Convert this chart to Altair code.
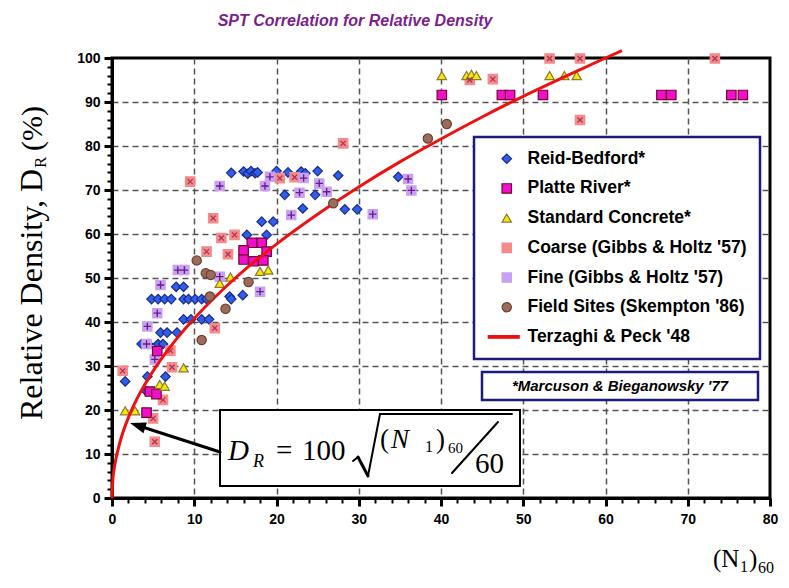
import altair as alt
import pandas as pd

series_names = ["Reid-Bedford*", "Platte River*", "Standard Concrete*",
                "Coarse (Gibbs & Holtz '57)", "Fine (Gibbs & Holtz '57)",
                "Field Sites (Skempton '86)", "Terzaghi & Peck '48"]

reid_n = [14.5, 16.0, 16.5, 16.9, 17.4, 17.7, 20.0, 21.4, 23.0, 23.5, 25.0, 27.5,
          21.0, 24.7, 23.2, 28.3, 29.8, 34.8,
          18.2, 19.6, 18.8, 16.4, 14.3, 15.9,
          4.8, 5.6, 6.4, 7.2, 8.7, 9.3, 10.1, 10.9, 11.5, 14.5,
          7.8, 8.7,
          8.7, 9.6, 10.9, 11.8,
          5.9, 6.7, 7.9,
          3.6, 4.4, 5.6, 6.2,
          4.3, 6.5, 1.6, 4.2]
reid_dr = [73.9, 74.2, 73.7, 74.3, 73.8, 74.0, 74.3, 74.0, 74.2, 73.8, 74.3, 73.3,
           68.9, 68.9, 65.8, 65.6, 65.6, 73.0,
           62.8, 62.8, 59.8, 59.8, 45.8, 46.1,
           45.2, 45.2, 45.2, 45.2, 45.2, 45.2, 45.2, 45.2, 45.2, 45.2,
           48.0, 48.0,
           40.6, 40.6, 40.6, 40.6,
           37.6, 37.6, 37.6,
           35.0, 35.0, 35.0, 35.0,
           27.6, 27.6, 26.5, 24.2]

platte_n = [17.0, 18.2, 16.0, 18.8, 16.0, 17.2, 18.4, 4.6, 5.4, 4.2, 5.5,
            40.1, 47.4, 48.4, 52.4, 66.8, 68.0, 75.3, 76.7]
platte_dr = [58.0, 58.0, 56.3, 56.0, 54.2, 53.8, 54.0, 24.2, 23.6, 19.4, 33.4,
             91.6, 91.6, 91.6, 91.6, 91.6, 91.6, 91.6, 91.6]

conc_n = [40.1, 43.1, 43.7, 44.3, 53.2, 55.0, 56.5, 1.6, 2.8, 5.8, 6.4, 8.7, 13.1, 14.4, 18.0, 19.0]
conc_dr = [96.0, 96.0, 96.3, 96.0, 96.0, 96.0, 96.0, 19.8, 19.8, 25.8, 25.4, 29.6, 48.8, 50.2, 51.5, 51.8]

coarse_n = [9.5, 12.3, 28.1, 20.4, 22.2, 13.3, 14.9, 11.5, 14.1, 12.5, 7.1, 1.3, 7.3, 6.2, 5.0, 5.2,
            53.2, 56.9, 73.3, 43.5, 46.3, 56.9]
coarse_dr = [71.9, 63.6, 80.6, 72.7, 72.9, 59.1, 59.8, 56.0, 55.4, 38.6, 33.5, 28.9, 29.7, 22.3, 18.1, 12.8,
             99.9, 99.9, 99.9, 95.0, 95.2, 85.9]

fine_n = [13.1, 18.6, 19.2, 23.3, 22.8, 25.2, 26.1, 21.8, 31.7, 36.0, 36.4, 8.0, 8.8, 5.9, 5.5, 4.3, 4.2, 5.2, 13.1, 18.0]
fine_dr = [70.9, 70.9, 73.0, 72.7, 69.4, 71.5, 69.6, 64.3, 64.5, 72.5, 69.9, 51.8, 51.8, 48.4, 42.0, 39.0, 35.0, 31.5, 50.3, 46.9]

field_n = [10.3, 11.4, 12.0, 11.9, 13.8, 16.6, 10.9, 26.9, 38.4, 40.7]
field_dr = [54.0, 51.1, 50.7, 45.8, 43.0, 49.1, 35.9, 67.0, 81.7, 85.0]

tp_n = [0, 0.1, 0.25, 0.5, 1, 2, 3, 4, 6, 8, 10, 15, 20, 25, 30, 35, 40, 45, 50, 55, 60, 62]
tp_dr = [0, 4.1, 6.5, 9.1, 12.9, 18.3, 22.4, 25.8, 31.6, 36.5, 40.8, 50.0, 57.7, 64.5, 70.7,
         76.4, 81.6, 86.6, 91.3, 95.7, 100.0, 101.7]

x_ticks = list(range(0, 81, 2))
y_ticks = list(range(0, 101, 2))

# ---------------- tables ----------------
def frame(ns, drs, name):
    return pd.DataFrame({"n": ns, "dr": drs, "series": name})

reid = frame(reid_n, reid_dr, series_names[0])
platte = frame(platte_n, platte_dr, series_names[1])
conc = frame(conc_n, conc_dr, series_names[2])
coarse = frame(coarse_n, coarse_dr, series_names[3])
fine = frame(fine_n, fine_dr, series_names[4])
field = frame(field_n, field_dr, series_names[5])
tp = frame(tp_n, tp_dr, series_names[6])

shapes = ["diamond", "square", "triangle-up", "square", "square", "circle",
          "M-4,-0.28H2.7V0.28H-4Z"]
fills = ["#2f5ee8", "#f010cc", "#f8e800", "#f58a8a", "#c9a0f2", "#9c6b5a", "#ee1111"]
strokes = ["#1a2a8a", "#7a0030", "#8a7a3a", "#f58a8a", "#c9a0f2", "#6a4032", "#ee1111"]
sizes = [90, 85, 140, 170, 170, 200, 120]

sc = dict(domain=series_names)


def make_axis(vals, top, pad):
    grid_test = "datum.value % 10 === 0 && datum.value > 0 && datum.value < " + str(top)
    return alt.Axis(values=vals,
                    labelExpr="datum.value % 10 === 0 ? datum.label : ''",
                    title=None, grid=True, gridDash=[6, 4], gridColor="#555555", gridWidth=1.5,
                    gridOpacity={"condition": {"test": grid_test, "value": 1}, "value": 0},
                    tickSize={"condition": {"test": "datum.value % 10 === 0", "value": 8}, "value": 5},
                    tickWidth={"condition": {"test": "datum.value % 10 === 0", "value": 3}, "value": 2},
                    tickColor="black", domainColor="black", domainWidth=3,
                    labelFont="Liberation Sans", labelFontSize=14, labelFontWeight="bold",
                    labelColor="black", labelPadding=pad, labelFlush=False, labelOverlap=False)


x_enc = alt.X("n:Q", scale=alt.Scale(domain=[0, 80], nice=False, zero=False),
              axis=make_axis(x_ticks, 80, 6))
y_enc = alt.Y("dr:Q", scale=alt.Scale(domain=[0, 100], nice=False, zero=False),
              axis=make_axis(y_ticks, 100, 4))

enc = dict(
    x=x_enc, y=y_enc,
    shape=alt.Shape("series:N", scale=alt.Scale(range=shapes, **sc), title=None),
    fill=alt.Fill("series:N", scale=alt.Scale(range=fills, **sc), title=None),
    stroke=alt.Stroke("series:N", scale=alt.Scale(range=strokes, **sc), title=None),
    size=alt.Size("series:N", scale=alt.Scale(range=sizes, **sc), title=None),
)

pts_a = alt.Chart(pd.concat([reid, coarse, fine, platte, conc])).mark_point(
    filled=True, strokeWidth=1.2, opacity=1).encode(**enc)

glyph = "M-1,-0.18H1V0.18H-1Z M-0.18,-1H0.18V1H-0.18Z"
coarse_x = alt.Chart(coarse).mark_point(shape=glyph, filled=True, size=50, angle=45,
                                        color="#a8325a", opacity=1).encode(x=x_enc, y=y_enc)
fine_p = alt.Chart(fine).mark_point(shape=glyph, filled=True, size=55,
                                    color="#6a1b8a", opacity=1).encode(x=x_enc, y=y_enc)

line = alt.Chart(tp).mark_line(strokeWidth=3, interpolate="monotone", clip=False).encode(
    x=x_enc, y=y_enc, stroke=alt.Stroke("series:N", scale=alt.Scale(range=strokes, **sc), title=None))

pts_b = alt.Chart(field).mark_point(filled=True, strokeWidth=1.2, opacity=1).encode(**enc)

# ---------------- annotations ----------------
ann = alt.Chart(pd.DataFrame({"k": [0]}))

def rule(x1, y1, x2, y2, w=2, color="black"):
    return ann.mark_rule(color=color, strokeWidth=w, strokeCap="round").encode(
        x=alt.value(x1), y=alt.value(y1), x2=alt.value(x2), y2=alt.value(y2))

def text(s, x, y, size, font="Liberation Serif", style="normal", weight="normal",
         align="left", baseline="alphabetic", angle=0, color="black"):
    return ann.mark_text(text=s, fontSize=size, font=font, fontStyle=style, fontWeight=weight,
                         align=align, baseline=baseline, angle=angle, color=color).encode(
        x=alt.value(x), y=alt.value(y))

def box(x1, y1, x2, y2, color="black", w=2):
    return ann.mark_rect(fill="white", stroke=color, strokeWidth=w).encode(
        x=alt.value(x1), y=alt.value(y1), x2=alt.value(x2), y2=alt.value(y2))

annotations = [
    box(108, 352, 408, 428),
    text("D", 116, 402, 29, style="italic"),
    text("R", 141, 409, 18, style="italic"),
    text("=", 164, 402, 29),
    text("100", 190, 402, 29),
    rule(241, 403, 246, 399, 2),
    rule(246, 399, 256, 418, 3),
    rule(256, 418, 268, 356, 2),
    rule(268, 356, 400, 356, 2),
    text("(", 268, 390, 27),
    text("N", 279, 390, 27, style="italic"),
    text("1", 313, 394, 16),
    text(")", 324, 390, 27),
    text("60", 336, 395, 15),
    rule(340, 415, 386, 364, 2),
    text("60", 363, 415, 29),
    rule(108, 394, 32, 369.5, 3),
    ann.mark_point(shape="M0,0L2,-0.7L2,0.7Z", size=256, filled=True, color="black",
                   angle=18, opacity=1).encode(x=alt.value(18), y=alt.value(365)),
    box(370, 314, 646, 342, color="#1a1a80", w=2.5),
    text("*Marcuson & Bieganowsky '77", 508, 328, 15, font="Liberation Sans",
         style="italic", weight="bold", align="center", baseline="middle"),
    # y title
    text("Relative Density, D", -70, 362, 32, angle=270),
    text("R", -66, 110, 17, angle=270),
    text("(%)", -70, 93, 30, angle=270),
    # x title
    text("(N", 601, 509, 25),
    text("1", 628, 514, 16),
    text(")", 637, 509, 25),
    text("60", 646, 515, 16),
]

chart = alt.layer(pts_a, coarse_x, fine_p, line, pts_b, *annotations).properties(
    width=658, height=440,
    padding={"left": 104, "top": 50, "right": 10, "bottom": 78},
    autosize=alt.AutoSizeParams(type="none"),
    title=alt.TitleParams("SPT Correlation for Relative Density",
                          font="Liberation Sans Narrow, Liberation Sans", fontSize=16,
                          fontStyle="italic", fontWeight="bold", color="#7b1f8c",
                          anchor="middle", frame="group", dx=-86, offset=16),
).configure_view(stroke="black", strokeWidth=3).configure_legend(
    orient="none", legendX=362, legendY=79, padding=13, strokeColor="#1a1a80",
    strokeWidth=2.5, fillColor="white", labelFont="Liberation Sans", labelFontSize=17.5,
    labelFontWeight="bold", labelColor="black", rowPadding=10.7, labelOffset=12,
    symbolOffset=11, symbolStrokeWidth=1.2, labelLimit=400)

chart.save("out.html", embed_options={"renderer": "svg", "actions": False})
